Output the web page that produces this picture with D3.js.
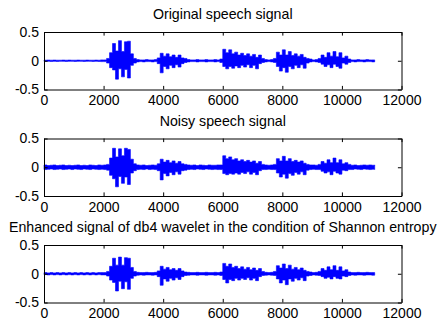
<!DOCTYPE html>
<html>
<head>
<meta charset="utf-8">
<script src="https://cdn.jsdelivr.net/npm/d3@7"></script>
<style>
  body { margin: 0; background: #fff; }
  svg { display: block; font-family: "Liberation Sans", Arial, sans-serif; }
  .axis path, .axis line { stroke: #000; stroke-width: 1; }
  .axis text { font-size: 14px; fill: #000; font-family: "Liberation Sans", Arial, sans-serif; }
  .title { font-size: 14.2px; fill: #000; }
</style>
</head>
<body>
<script>
// samples are summarised every 100 points: upper / lower peak
var step = 100;

var titles = [
  "Original speech signal",
  "Noisy speech signal",
  "Enhanced signal of db4 wavelet in the condition of Shannon entropy"
];

var xTicks = [0, 2000, 4000, 6000, 8000, 10000, 12000];
var yTicks = [-0.5, 0, 0.5];

var origHi = [
  .01,.012,.01,.012,.01,.01,.012,.01,.012,.01,
  .01,.012,.01,.01,.012,.01,.01,.012,.01,.015,
  .015,.04,.14,.30,.17,.35,.16,.33,.34,.12,
  .04,.02,.015,.015,.02,.015,.015,.02,.05,.13,
  .08,.12,.07,.10,.06,.10,.05,.04,.02,.015,
  .015,.02,.015,.015,.02,.015,.015,.02,.015,.03,
  .20,.14,.19,.12,.15,.10,.13,.09,.12,.08,
  .11,.06,.10,.04,.02,.015,.02,.04,.15,.10,
  .19,.10,.16,.09,.12,.08,.11,.06,.04,.03,
  .015,.02,.04,.10,.06,.14,.08,.16,.07,.14,
  .05,.08,.03,.015,.015,.02,.015,.015,.02,.015,
  .015,.015
];
var origLo = [
  -.01,-.01,-.012,-.01,-.012,-.01,-.01,-.012,-.01,-.01,
  -.012,-.01,-.01,-.012,-.01,-.01,-.012,-.01,-.012,-.015,
  -.015,-.04,-.12,-.16,-.32,-.14,-.28,-.15,-.30,-.08,
  -.04,-.02,-.015,-.02,-.015,-.015,-.02,-.015,-.05,-.21,
  -.10,-.14,-.08,-.12,-.07,-.11,-.05,-.03,-.02,-.015,
  -.015,-.02,-.015,-.015,-.02,-.015,-.015,-.02,-.015,-.03,
  -.10,-.14,-.10,-.13,-.09,-.12,-.08,-.11,-.07,-.12,
  -.08,-.14,-.05,-.03,-.02,-.015,-.02,-.03,-.10,-.18,
  -.12,-.20,-.10,-.14,-.08,-.12,-.07,-.13,-.04,-.02,
  -.015,-.02,-.03,-.06,-.10,-.07,-.12,-.06,-.10,-.13,
  -.04,-.06,-.03,-.015,-.02,-.015,-.015,-.02,-.015,-.015,
  -.02,-.015
];

var noisyHi = [
  .04,.03,.035,.04,.03,.035,.04,.03,.035,.03,
  .035,.04,.03,.035,.03,.04,.035,.03,.04,.035,
  .04,.05,.16,.33,.18,.32,.20,.33,.31,.14,
  .06,.04,.035,.04,.03,.035,.04,.035,.06,.14,
  .09,.12,.08,.11,.07,.10,.06,.05,.04,.035,
  .04,.03,.04,.035,.03,.04,.035,.035,.04,.04,
  .20,.15,.18,.13,.15,.11,.13,.10,.12,.09,
  .11,.07,.10,.05,.04,.035,.04,.05,.15,.11,
  .19,.11,.15,.10,.12,.09,.11,.07,.05,.04,
  .04,.035,.05,.10,.07,.13,.08,.16,.08,.13,
  .06,.08,.05,.035,.04,.03,.035,.04,.035,.04,
  .035,.04
];
var noisyLo = [
  -.04,-.035,-.03,-.04,-.035,-.03,-.04,-.035,-.03,-.04,
  -.03,-.035,-.04,-.03,-.035,-.04,-.03,-.035,-.04,-.035,
  -.04,-.05,-.14,-.20,-.34,-.16,-.28,-.17,-.30,-.10,
  -.06,-.04,-.035,-.04,-.03,-.04,-.035,-.04,-.06,-.22,
  -.11,-.15,-.09,-.13,-.08,-.12,-.06,-.05,-.04,-.035,
  -.04,-.03,-.035,-.04,-.03,-.035,-.04,-.035,-.04,-.04,
  -.11,-.13,-.11,-.12,-.10,-.12,-.09,-.11,-.08,-.12,
  -.09,-.13,-.06,-.04,-.04,-.035,-.04,-.04,-.10,-.17,
  -.12,-.19,-.11,-.14,-.09,-.12,-.08,-.13,-.05,-.04,
  -.035,-.04,-.04,-.07,-.10,-.08,-.13,-.07,-.10,-.12,
  -.05,-.06,-.04,-.04,-.03,-.035,-.04,-.03,-.035,-.04,
  -.035,-.04
];

var enhHi = [
  .02,.015,.02,.015,.02,.015,.02,.015,.02,.015,
  .02,.015,.02,.015,.02,.015,.02,.015,.02,.02,
  .02,.04,.13,.27,.15,.29,.15,.28,.27,.11,
  .04,.025,.02,.02,.025,.02,.02,.025,.05,.13,
  .08,.11,.07,.09,.06,.09,.05,.03,.025,.02,
  .02,.025,.02,.02,.025,.02,.02,.025,.02,.03,
  .18,.13,.17,.11,.13,.09,.12,.08,.11,.07,
  .10,.06,.09,.04,.025,.02,.025,.04,.14,.10,
  .17,.09,.15,.08,.11,.07,.10,.06,.04,.03,
  .02,.025,.04,.09,.06,.12,.07,.14,.06,.12,
  .05,.07,.03,.02,.02,.025,.02,.02,.025,.02,
  .02,.02
];
var enhLo = [
  -.015,-.02,-.015,-.02,-.015,-.02,-.015,-.02,-.015,-.02,
  -.015,-.02,-.015,-.02,-.015,-.02,-.015,-.02,-.015,-.02,
  -.02,-.04,-.11,-.15,-.30,-.13,-.26,-.14,-.27,-.08,
  -.04,-.025,-.02,-.025,-.02,-.02,-.025,-.02,-.05,-.20,
  -.09,-.13,-.08,-.11,-.07,-.10,-.05,-.03,-.025,-.02,
  -.02,-.025,-.02,-.02,-.025,-.02,-.02,-.025,-.02,-.03,
  -.10,-.16,-.10,-.12,-.08,-.11,-.08,-.10,-.07,-.11,
  -.08,-.12,-.05,-.03,-.025,-.02,-.025,-.03,-.09,-.16,
  -.11,-.19,-.09,-.13,-.08,-.11,-.07,-.12,-.04,-.03,
  -.02,-.025,-.03,-.05,-.08,-.06,-.09,-.05,-.08,-.09,
  -.04,-.05,-.03,-.02,-.025,-.02,-.02,-.025,-.02,-.02,
  -.025,-.02
];

var signals = [
  {hi: origHi, lo: origLo},
  {hi: noisyHi, lo: noisyLo},
  {hi: enhHi, lo: enhLo}
];

var width = 437,
    height = 332;

var margin = {left: 44, right: 35.5};
var tops = [32, 138.5, 245],
    plotH = 57.5,
    tickLen = 3.6;

var svg = d3.select("body").append("svg")
    .attr("width", width)
    .attr("height", height);

svg.append("rect")
    .attr("width", width)
    .attr("height", height)
    .attr("fill", "#fff");

var x = d3.scaleLinear()
    .domain([xTicks[0], xTicks[xTicks.length - 1]])
    .range([margin.left, width - margin.right]);

var fmtY = d => d === 0 ? "0" : String(d);

signals.forEach(function(s, k) {
  var top = tops[k];
  var y = d3.scaleLinear()
      .domain([yTicks[0], yTicks[yTicks.length - 1]])
      .range([top + plotH, top]);

  var blocks = s.hi.map((h, i) => ({t: i * step, hi: h, lo: s.lo[i]}));

  // each block is drawn as a column spanning its lower to upper peak
  var area = d3.area()
      .curve(d3.curveStepAfter)
      .x(d => x(d.t))
      .y0(d => y(d.lo))
      .y1(d => y(d.hi));

  var g = svg.append("g");

  g.append("path")
      .attr("d", area(blocks))
      .attr("fill", "#0000ff")
      .attr("stroke", "#0000ff")
      .attr("stroke-width", 0.6);

  // box with inward ticks on all sides
  g.append("g")
      .attr("class", "axis")
      .attr("transform", `translate(0, ${top + plotH})`)
      .call(d3.axisBottom(x).tickValues(xTicks).tickFormat(d3.format("d"))
        .tickSizeInner(-tickLen).tickSizeOuter(0).tickPadding(6));

  g.append("g")
      .attr("class", "axis")
      .attr("transform", `translate(0, ${top})`)
      .call(d3.axisTop(x).tickValues(xTicks).tickFormat("")
        .tickSizeInner(-tickLen).tickSizeOuter(0));

  g.append("g")
      .attr("class", "axis")
      .attr("transform", `translate(${margin.left}, 0)`)
      .call(d3.axisLeft(y).tickValues(yTicks).tickFormat(fmtY)
        .tickSizeInner(-tickLen).tickSizeOuter(0).tickPadding(5));

  g.append("g")
      .attr("class", "axis")
      .attr("transform", `translate(${width - margin.right}, 0)`)
      .call(d3.axisRight(y).tickValues(yTicks).tickFormat("")
        .tickSizeInner(-tickLen).tickSizeOuter(0));

  g.selectAll(".axis text").attr("font-family", null).attr("font-size", null);

  g.append("text")
      .attr("class", "title")
      .attr("x", (x.range()[0] + x.range()[1]) / 2)
      .attr("y", top - 13)
      .attr("text-anchor", "middle")
      .text(titles[k]);
});
</script>
</body>
</html>
